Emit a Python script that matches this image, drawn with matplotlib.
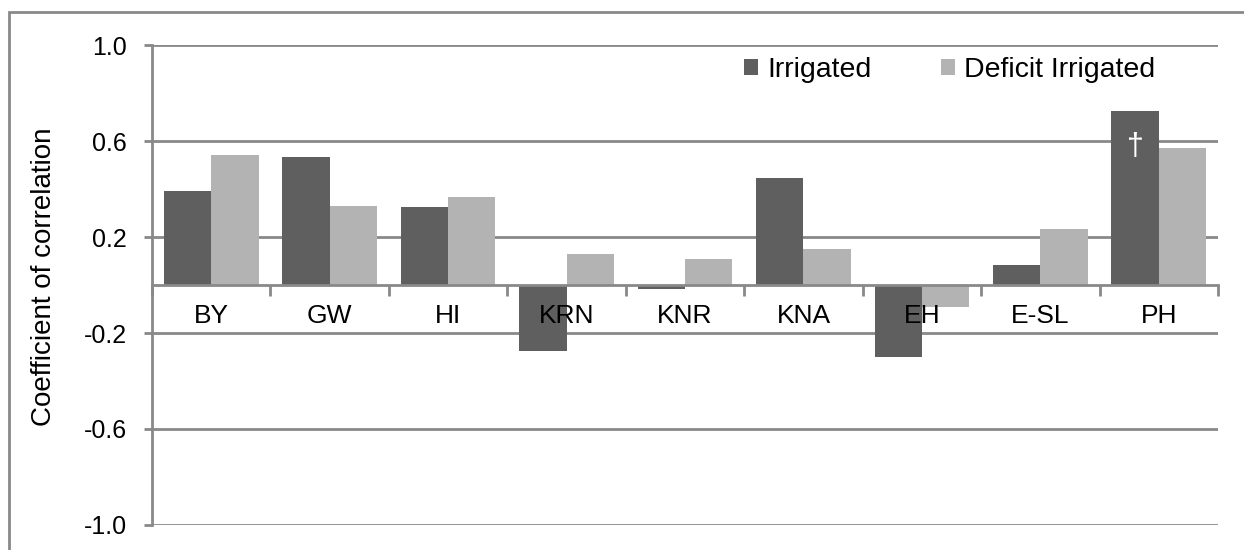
import matplotlib.pyplot as plt
from matplotlib.patches import Rectangle
import numpy as np

plt.rcParams['font.family'] = ['Liberation Sans', 'DejaVu Sans']

traits = ["BY", "GW", "HI", "KRN", "KNR", "KNA", "EH", "E-SL", "PH"]
irrigated = [0.39, 0.535, 0.325, -0.275, -0.015, 0.445, -0.30, 0.083, 0.725]
deficit = [0.54, 0.33, 0.365, 0.129, 0.11, 0.15, -0.09, 0.233, 0.572]
yticks = [-1.0, -0.6, -0.2, 0.2, 0.6, 1.0]

grid_c = "#898989"
dark = "#5f5f5f"
light = "#b3b3b3"

fig = plt.figure(figsize=(12.44, 5.5), dpi=100)
ax = fig.add_axes([152 / 1244, 1 - 525 / 550, 1066 / 1244, 480 / 550])
ax.set_axisbelow(False)  # trait names sit on top of the bars

x = np.arange(len(traits))
w = 0.4
b1 = ax.bar(x - w / 2, irrigated, w, color=dark, label="Irrigated", zorder=2)
b2 = ax.bar(x + w / 2, deficit, w, color=light, label="Deficit Irrigated", zorder=2)

# dagger on the PH irrigated bar
ax.annotate("\u2020", (x[-1] - w / 2, irrigated[-1]), xytext=(0, -15),
            textcoords="offset points", ha="center", va="top",
            color="white", fontsize=22, zorder=4)

ax.set_xlim(-0.5, len(traits) - 0.5)
ax.set_ylim(-1.0, 1.0)

ax.set_yticks(yticks)
ax.set_yticklabels([f"{v:.1f}" for v in yticks])
for v in yticks:
    ax.axhline(v, color=grid_c, lw=2, zorder=1)

# category boundaries as ticks, names as minor labels
ax.set_xticks(np.arange(len(traits) + 1) - 0.5)
ax.set_xticklabels([])
ax.set_xticks(x, minor=True)
ax.set_xticklabels(traits, minor=True)
ax.tick_params(axis="x", which="major", length=8, width=2, color=grid_c, direction="out")
ax.tick_params(axis="x", which="minor", length=0, pad=14, labelsize=19)
ax.tick_params(axis="y", length=6, width=2, color=grid_c, pad=12, labelsize=18)

for s in ["top", "right"]:
    ax.spines[s].set_visible(False)
ax.spines["bottom"].set_position(("data", 0))
ax.spines["bottom"].set_color(grid_c)
ax.spines["bottom"].set_linewidth(2)
ax.spines["left"].set_color(grid_c)
ax.spines["left"].set_linewidth(2)

ax.set_ylabel("Coefficient of correlation", fontsize=20)
ax.yaxis.set_label_coords(-0.089, 0.517)

fig.legend(handles=[b1, b2], loc="center left", ncol=2, frameon=False,
           bbox_to_anchor=(730 / 1244, 1 - 70 / 550), fontsize=20.5,
           handlelength=0.5, handleheight=0.5, handletextpad=0.3,
           columnspacing=2.45, borderpad=0)

# outer chart border
fig.patches.append(Rectangle((9 / 1244, -0.1), 1.2, 1.1 - 12 / 550,
                             transform=fig.transFigure, fill=False,
                             edgecolor=grid_c, lw=2))

fig.savefig("out.png", dpi=100)
